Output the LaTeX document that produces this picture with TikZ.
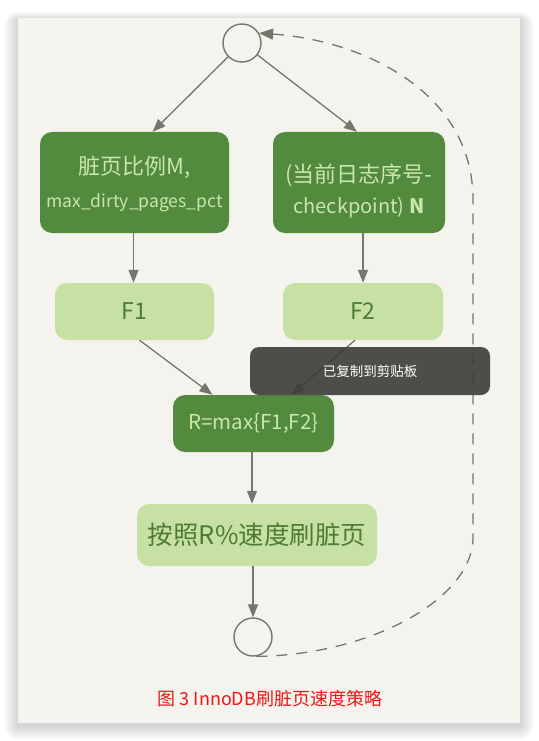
\documentclass[tikz,border=0pt]{standalone}
\usepackage{fontspec}
\setmainfont{Noto Sans CJK SC}
\usetikzlibrary{arrows.meta}
\definecolor{paper}{HTML}{F5F3EE}
\definecolor{darkbox}{HTML}{528A3E}
\definecolor{lightbox}{HTML}{C7E1A4}
\definecolor{paletext}{HTML}{CBE7A8}
\definecolor{deeptext}{HTML}{4E7B36}
\definecolor{ink}{HTML}{76766C}
\definecolor{toast}{HTML}{3B3B38}
\definecolor{capred}{HTML}{F01414}
\begin{document}
\begin{tikzpicture}[x=1pt,y=-1pt,
  darkstep/.style={fill=darkbox, rounded corners=12pt, text=paletext, align=center, inner sep=0pt},
  lightstep/.style={fill=lightbox, rounded corners=12pt, text=deeptext, align=center, inner sep=0pt},
  boxtext/.style={align=center, inner sep=0pt},
  junction/.style={circle, draw=ink, line width=1.4pt, fill=paper, minimum size=38pt, inner sep=0pt},
  flow/.style={draw=ink, line width=1.3pt, -{Triangle[length=13pt,width=10pt]}},
  loopback/.style={draw=ink, line width=1.3pt, dash pattern=on 11pt off 9pt, -{Triangle[length=14pt,width=11pt]}},
]
\useasboundingbox (0,0) rectangle (538,741);
\fill[white] (0,0) rectangle (538,741);
% soft drop shadow under the card
\foreach \i in {1,...,14}
  \fill[black, opacity=0.011, rounded corners=\i pt] ({18-\i},{20-\i*0.6}) rectangle ({520+\i},{726+\i});
\fill[paper] (18,18) rectangle (520,723);

% nodes
\node[junction] (top) at (242,43) {};
\node[darkstep, minimum width=189pt, minimum height=101pt] (ratio) at (134.5,182.5) {};
\node[boxtext, text=paletext] (ratiotext) at (134.5,183.5)
  {\fontsize{22}{26}\selectfont 脏页比例M,\\[14pt]\fontsize{17.5}{20}\selectfont max\_dirty\_pages\_pct};
\node[darkstep, minimum width=172pt, minimum height=101pt] (lag) at (359,182.5) {};
\node[boxtext, text=paletext] (lagtext) at (359,191)
  {\fontsize{22}{26}\selectfont (当前日志序号-\\[10pt]\fontsize{20}{24}\selectfont checkpoint) {\bfseries N}};
\node[lightstep, minimum width=159pt, minimum height=57pt] (fone) at (134.5,311.5)
  {\fontsize{23}{26}\selectfont F1};
\node[lightstep, minimum width=160pt, minimum height=57pt] (ftwo) at (363,311.5)
  {\fontsize{23}{26}\selectfont F2};
\node[darkstep, minimum width=161pt, minimum height=57pt] (rate) at (253.5,423.5)
  {\fontsize{20.5}{24}\selectfont R=max\{F1,F2\}};
\node[lightstep, minimum width=240pt, minimum height=62pt] (flush) at (257,535)
  {\fontsize{25.5}{28}\selectfont 按照R\%速度刷脏页};
\node[junction] (bot) at (253,637) {};

% connectors
\draw[flow] (top) -- ([xshift=18pt]ratio.north);
\draw[flow] (top) -- ([xshift=-2pt]lag.north);
\draw[flow] ([xshift=-1pt]ratio.south) -- ([xshift=-1pt]ratio.south |- fone.north);
\draw[flow] ([xshift=4pt]lag.south) -- ([xshift=4pt]lag.south |- ftwo.north);
\draw[flow] ([xshift=5pt]fone.south) -- ([xshift=-41pt]rate.north);
\draw[flow] ([xshift=-8pt]ftwo.south) -- ([xshift=38pt]rate.north);
\draw[flow] ([xshift=-1.5pt]rate.south) -- ([xshift=-1.5pt]rate.south |- flush.north);
\draw[flow] (bot.north |- flush.south) -- (bot);
\draw[loopback] (bot.-80) .. controls (370,655) and (470,600) .. (473,540)
  -- (473,200) .. controls (473,90) and (360,40) .. (top.30);

% copy notice
\node[fill=toast, fill opacity=0.9, text opacity=1, text=white, rounded corners=9pt,
  minimum width=240pt, minimum height=48pt, inner sep=0pt] (notice) at (370,371)
  {\fontsize{13.5}{16}\selectfont 已复制到剪贴板};

% caption
\node[text=capred] (caption) at (270,699) {\fontsize{18}{21}\selectfont 图 3 InnoDB刷脏页速度策略};
\end{tikzpicture}
\end{document}
